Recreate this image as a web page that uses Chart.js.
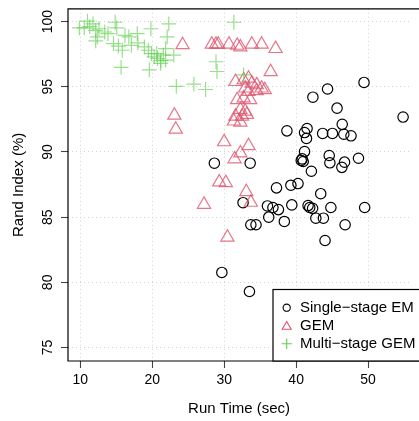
<!DOCTYPE html>
<html>
<head>
<meta charset="utf-8">
<script src="https://cdn.jsdelivr.net/npm/chart.js@4/dist/chart.umd.min.js"></script>
<style>
  html, body { margin: 0; padding: 0; background: #fff; overflow: hidden; }
  canvas { display: block; }
</style>
</head>
<body>
<canvas id="scatterChart" width="419" height="421"></canvas>
<script>
// Single-stage EM runs
const emTime = [
    49.44, 44.37, 42.33, 45.69, 54.87, 46.41, 38.72, 41.52, 41.17, 41.44,
    43.69, 45.05, 46.63, 47.63, 41.17, 44.60, 44.69, 46.73, 46.36, 48.67,
    40.84, 40.98, 40.71, 42.12, 37.27, 39.27, 40.26, 43.42, 36.01, 36.77,
    37.54, 39.40, 41.66, 41.89, 42.29, 44.83, 49.53, 36.19, 38.36, 42.74,
    43.79, 46.81, 44.02, 28.63, 33.61, 32.62, 33.70, 34.42, 29.67, 33.51
];
const emRand = [
    95.33, 94.83, 94.20, 93.36, 92.68, 92.12, 91.62, 91.80, 91.49, 91.04,
    91.42, 91.42, 91.36, 91.24, 90.03, 89.73, 89.17, 89.22, 88.82, 89.52,
    89.47, 89.27, 89.35, 88.52, 87.25, 87.45, 87.58, 86.80, 85.86, 85.74,
    85.58, 85.94, 85.89, 85.74, 85.68, 85.74, 85.74, 85.00, 84.67, 84.92,
    84.92, 84.42, 83.21, 89.14, 89.14, 86.11, 84.42, 84.42, 80.76, 79.30
];

// GEM runs
const gemTime = [
    24.21, 28.28, 28.86, 29.17, 30.67, 31.80, 32.25, 33.84, 35.20, 37.14,
    36.46, 31.57, 32.70, 33.38, 33.84, 34.52, 35.20, 35.64, 32.93, 33.38,
    31.80, 32.70, 33.61, 32.25, 32.93, 31.57, 32.48, 33.16, 31.34, 32.25,
    34.52, 29.99, 33.38, 32.25, 31.44, 29.31, 30.22, 33.07, 33.70, 27.19,
    30.45, 23.07, 23.26
];
const gemRand = [
    98.22, 98.25, 98.25, 98.25, 98.25, 98.17, 98.04, 98.25, 98.25, 97.92,
    96.15, 95.39, 95.52, 95.65, 95.27, 95.14, 94.89, 94.76, 94.89, 94.63,
    94.00, 94.13, 94.00, 93.25, 93.12, 92.74, 92.74, 92.87, 92.36, 92.28,
    94.69, 90.77, 90.47, 89.91, 89.46, 87.69, 87.64, 86.94, 86.13, 85.97,
    83.45, 92.81, 91.73
];

// Multi-stage GEM runs
const multiTime = [
    9.86, 10.54, 10.99, 11.30, 11.76, 12.13, 12.35, 12.58, 12.13, 13.39,
    13.84, 14.84, 15.06, 14.61, 15.29, 15.83, 15.66, 16.20, 16.74, 17.10,
    17.91, 18.00, 18.90, 19.45, 19.81, 19.90, 20.27, 20.72, 21.17, 21.53,
    21.85, 22.07, 22.30, 22.98, 19.59, 21.17, 21.85, 20.62, 23.34, 25.78,
    27.41, 31.34, 28.86, 29.00, 32.70
];
const multiRand = [
    99.52, 99.52, 100.03, 99.62, 99.83, 99.32, 98.82, 99.45, 98.52, 99.20,
    99.07, 99.95, 99.52, 98.31, 98.11, 97.80, 96.49, 98.94, 98.82, 98.18,
    99.07, 98.36, 98.06, 97.80, 99.45, 97.55, 97.30, 97.17, 97.00, 97.42,
    97.93, 98.82, 99.83, 97.42, 96.29, 96.80, 97.05, 97.55, 95.03, 95.20,
    94.79, 99.95, 96.92, 96.17, 95.91
];

const xTicks = [10, 20, 30, 40, 50];
const yTicks = [75, 80, 85, 90, 95, 100];

const FONT = "'Liberation Sans', Arial, Helvetica, sans-serif";
const EM_COLOR = '#000000';
const GEM_COLOR = 'rgba(223, 83, 107, 0.8)';
const MULTI_COLOR = 'rgba(97, 208, 79, 0.65)';

const toPoints = (xs, ys) => xs.map((x, i) => ({ x: x, y: ys[i] }));

const chartData = {
    datasets: [
        {
            label: 'Single\u2212stage EM',
            data: toPoints(emTime, emRand),
            pointStyle: 'circle',
            pointRadius: 5.2,
            pointBorderWidth: 1.2,
            pointBorderColor: EM_COLOR,
            pointBackgroundColor: 'rgba(0,0,0,0)',
            order: 3,
        },
        {
            label: 'GEM',
            data: toPoints(gemTime, gemRand),
            pointStyle: 'triangle',
            pointRadius: 7.6,
            pointBorderWidth: 1.2,
            pointBorderColor: GEM_COLOR,
            pointBackgroundColor: 'rgba(0,0,0,0)',
            order: 2,
        },
        {
            label: 'Multi\u2212stage GEM',
            data: toPoints(multiTime, multiRand),
            pointStyle: 'cross',
            pointRadius: 7.4,
            pointBorderWidth: 1.2,
            pointBorderColor: MULTI_COLOR,
            pointBackgroundColor: 'rgba(0,0,0,0)',
            order: 1,
        },
    ],
};

// Box frame, rotated y tick labels and the boxed legend
const plotDecor = {
    id: 'plotDecor',
    afterDatasetsDraw(chart) {
        const { ctx, chartArea } = chart;
        const yScale = chart.scales.y;
        ctx.save();
        ctx.strokeStyle = '#000';
        ctx.lineWidth = 1.2;
        ctx.beginPath();
        ctx.moveTo(chart.width + 2, chartArea.top);
        ctx.lineTo(chartArea.left, chartArea.top);
        ctx.lineTo(chartArea.left, chartArea.bottom);
        ctx.lineTo(chart.width + 2, chartArea.bottom);
        ctx.stroke();

        ctx.fillStyle = '#000';
        ctx.font = '14px ' + FONT;
        ctx.textAlign = 'center';
        ctx.textBaseline = 'alphabetic';
        yTicks.forEach(v => {
            ctx.save();
            ctx.translate(52, yScale.getPixelForValue(v));
            ctx.rotate(-Math.PI / 2);
            ctx.fillText(String(v), 0, 0);
            ctx.restore();
        });
        ctx.restore();
    },
    afterDraw(chart) {
        const { ctx, chartArea } = chart;
        const boxLeft = 273, boxTop = 289.5;
        ctx.save();
        ctx.fillStyle = '#fff';
        ctx.fillRect(boxLeft, boxTop, chart.width - boxLeft + 5, chartArea.bottom - boxTop);
        ctx.strokeStyle = '#000';
        ctx.lineWidth = 1.2;
        ctx.strokeRect(boxLeft, boxTop, chart.width - boxLeft + 5, chartArea.bottom - boxTop);

        const symbols = [
            { style: 'circle', radius: 3.6, color: '#000' },
            { style: 'triangle', radius: 5.2, color: '#DF536B' },
            { style: 'cross', radius: 5.2, color: '#61D04F' },
        ];
        ctx.font = '15px ' + FONT;
        ctx.textAlign = 'left';
        ctx.textBaseline = 'middle';
        chart.data.datasets.forEach((ds, i) => {
            const rowY = 307.7 + i * 18;
            const s = symbols[i];
            ctx.strokeStyle = s.color;
            ctx.fillStyle = 'rgba(0,0,0,0)';
            ctx.lineWidth = 1.1;
            Chart.helpers.drawPoint(ctx, {
                pointStyle: s.style, radius: s.radius, rotation: 0, borderWidth: 1.1,
            }, 286.7, rowY + (s.style === 'triangle' ? 1 : 0));
            ctx.fillStyle = '#000';
            ctx.fillText(ds.label, 300, rowY);
        });
        ctx.restore();
    },
};

const chartOptions = {
    responsive: false,
    devicePixelRatio: 1,
    animation: false,
    events: [],
    layout: { padding: { top: 5, right: 0, bottom: 0, left: 0 } },
    scales: {
        x: {
            type: 'linear',
            min: 8.28,
            max: 55.86,
            afterBuildTicks: scale => { scale.ticks = xTicks.map(v => ({ value: v })); },
            afterFit: scale => { scale.height = 60; },
            grid: {
                color: 'lightgray',
                lineWidth: 1,
                drawTicks: true,
                tickLength: 7,
                tickColor: '#444',
                tickWidth: 1.1,
                tickBorderDash: [],
            },
            border: { display: false, dash: [1, 3] },
            ticks: {
                color: '#000',
                padding: 4,
                maxRotation: 0,
                font: { family: FONT, size: 14 },
            },
            title: {
                display: true,
                text: 'Run Time (sec)',
                color: '#000',
                padding: 3,
                font: { family: FONT, size: 15 },
            },
        },
        y: {
            type: 'linear',
            min: 73.97,
            max: 100.98,
            afterBuildTicks: scale => { scale.ticks = yTicks.map(v => ({ value: v })); },
            afterFit: scale => { scale.width = 68; },
            grid: {
                color: 'lightgray',
                lineWidth: 1,
                drawTicks: true,
                tickLength: 7,
                tickColor: '#444',
                tickWidth: 1.1,
                tickBorderDash: [],
            },
            border: { display: false, dash: [1, 3] },
            ticks: { display: false },
            title: {
                display: true,
                text: 'Rand Index (%)',
                color: '#000',
                padding: 10,
                font: { family: FONT, size: 15 },
            },
        },
    },
    plugins: {
        legend: { display: false },
        tooltip: { enabled: false },
    },
};

const ctx = document.getElementById('scatterChart').getContext('2d');
const scatterChart = new Chart(ctx, {
    type: 'scatter',
    data: chartData,
    options: chartOptions,
    plugins: [plotDecor],
});
</script>
</body>
</html>
